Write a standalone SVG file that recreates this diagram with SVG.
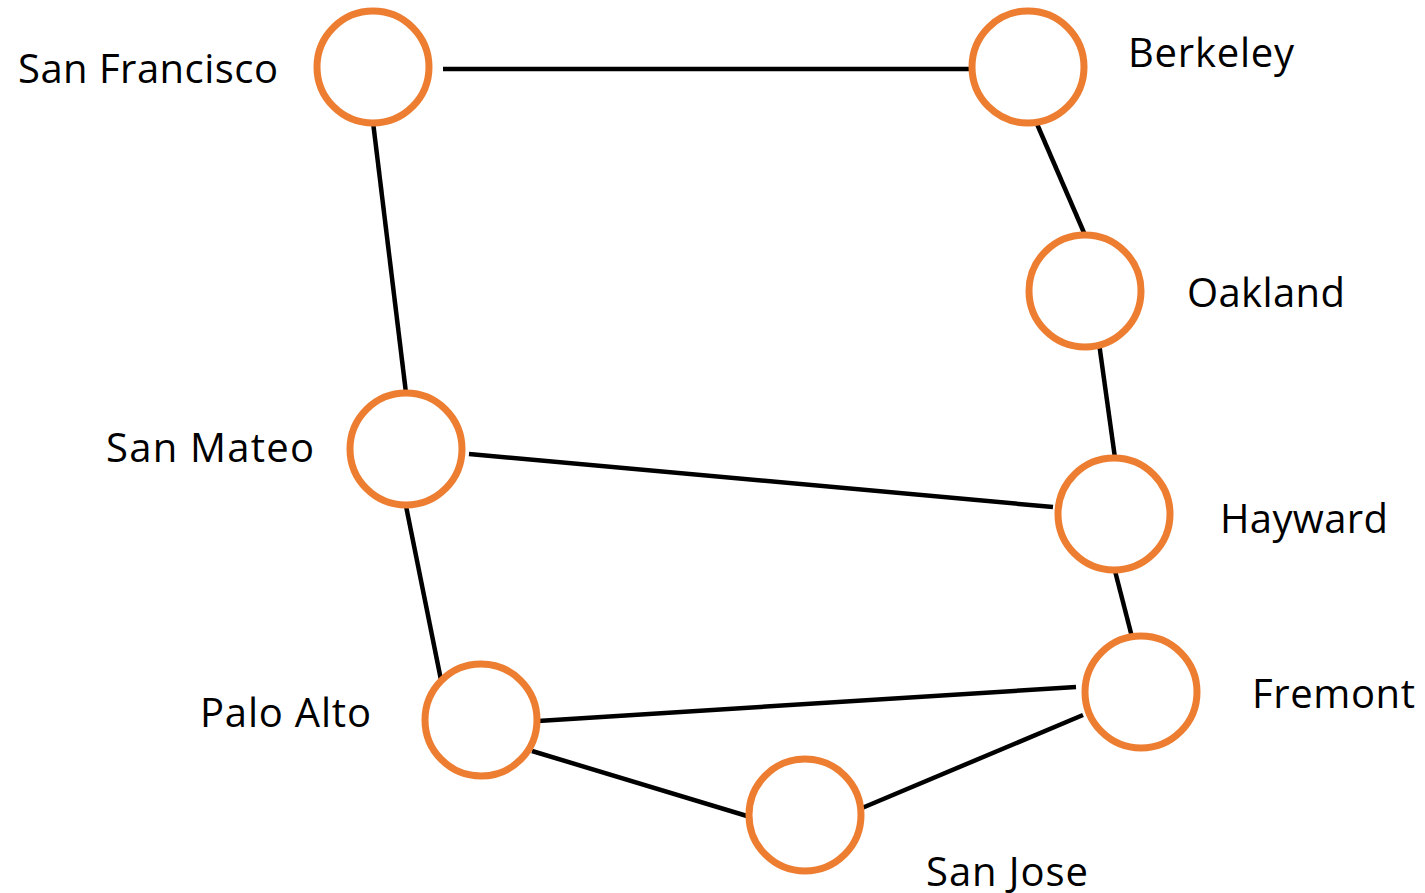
<svg xmlns="http://www.w3.org/2000/svg" width="1425" height="893" viewBox="0 0 1425 893">
<style>
.n{fill:#fff;stroke:#ED7D31;stroke-width:7}
.e{stroke:#000;stroke-width:4.5;fill:none}
.t{font-family:"Open Sans","Liberation Sans",sans-serif;font-size:40px;fill:#000}
</style>
<rect width="1425" height="893" fill="#fff"/>
<g id="edges">
<line class="e" x1="443" y1="69" x2="971" y2="69"/>
<line class="e" x1="373" y1="122" x2="406" y2="393"/>
<line class="e" x1="1037" y1="124" x2="1085" y2="235"/>
<line class="e" x1="1099" y1="343" x2="1115" y2="458"/>
<line class="e" x1="469" y1="454" x2="1053" y2="507"/>
<line class="e" x1="406" y1="506" x2="441" y2="680"/>
<line class="e" x1="1115" y1="571" x2="1132" y2="637"/>
<line class="e" x1="538" y1="721" x2="1076" y2="687"/>
<line class="e" x1="532" y1="751" x2="747" y2="816"/>
<line class="e" x1="862" y1="808" x2="1083" y2="715"/>
</g>
<g id="sf"><circle class="n" cx="373" cy="67" r="56"/><text class="t" x="18" y="83" textLength="260">San Francisco</text></g>
<g id="berkeley"><circle class="n" cx="1028" cy="67" r="56"/><text class="t" x="1128" y="67" textLength="166">Berkeley</text></g>
<g id="oakland"><circle class="n" cx="1085" cy="291" r="56"/><text class="t" x="1187" y="307" textLength="158">Oakland</text></g>
<g id="sanmateo"><circle class="n" cx="406" cy="449" r="56"/><text class="t" x="106" y="462" textLength="208">San Mateo</text></g>
<g id="hayward"><circle class="n" cx="1114" cy="514" r="56"/><text class="t" x="1220" y="533" textLength="168">Hayward</text></g>
<g id="fremont"><circle class="n" cx="1141" cy="692" r="56"/><text class="t" x="1252" y="708" textLength="163">Fremont</text></g>
<g id="paloalto"><circle class="n" cx="481" cy="720" r="56"/><text class="t" x="200" y="727" textLength="171">Palo Alto</text></g>
<g id="sanjose"><circle class="n" cx="805" cy="815" r="56"/><text class="t" x="926" y="886" textLength="162">San Jose</text></g>
</svg>
